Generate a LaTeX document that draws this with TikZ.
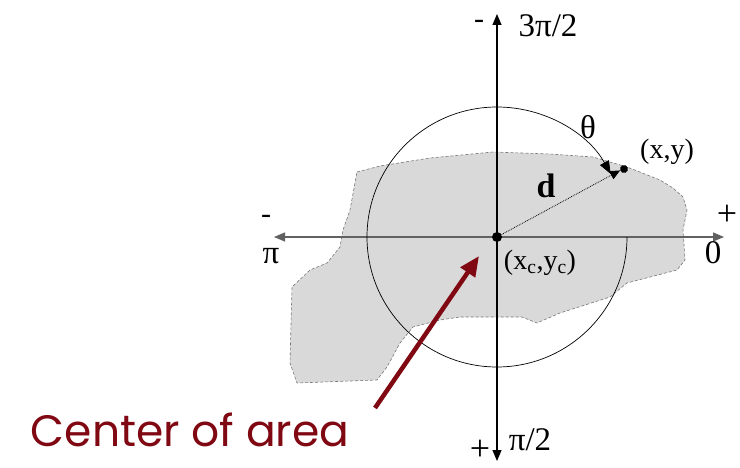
\documentclass[tikz,border=0pt]{standalone}
\usepackage{fontspec}
\setmainfont{Liberation Serif}
\newfontfamily\notefont{Poppins}
\usetikzlibrary{arrows.meta}
\definecolor{areagray}{RGB}{217,217,217}
\definecolor{areaedge}{RGB}{120,120,120}
\definecolor{notered}{RGB}{128,8,18}

\begin{document}
\begin{tikzpicture}[
  x=1pt, y=-1pt,
  axis/.style={line width=1.2pt, {Triangle[length=11pt,width=9pt]}-{Triangle[length=11pt,width=9pt]}},
  haxis/.style={axis, draw=black!62},
  area/.style={fill=areagray, draw=areaedge, line width=.6pt, densely dashed},
  lbl/.style={inner sep=1pt, font=\fontsize{33}{35}\selectfont},
  sign/.style={inner sep=0pt, font=\fontsize{30}{32}\selectfont},
  plus/.style={inner sep=0pt, font=\fontsize{36}{38}\selectfont},
  dline/.style={line width=.8pt, densely dotted, -{Triangle[length=10pt,width=9pt]}},
  sweep/.style={line width=.7pt, -{Triangle[length=13pt,width=10pt]}},
  note/.style={-{Triangle[length=20pt,width=17pt]}, line width=4.5pt, draw=notered},
  dot/.style={circle, fill=black, inner sep=0pt, minimum size=10pt}
]
\useasboundingbox (0,0) rectangle (740,468);

% blob
\draw[area] (357,172) -- (380,166) -- (430,158) -- (493,152) -- (550,154)
  -- (593,157) -- (627,167) -- (660,180) -- (673,188) -- (683,197)
  -- (687,210) -- (683,230) -- (685,260) -- (677,270) -- (627,283)
  -- (610,297) -- (560,313) -- (537,323) -- (522,317) -- (460,317)
  -- (440,320) -- (413,327) -- (400,343) -- (387,367) -- (377,380)
  -- (297,383) -- (290,363) -- (292,287) -- (310,270) -- (327,263)
  -- (340,247) -- (343,230) -- (350,210) -- cycle;

% axes
\coordinate (top) at (497,14);
\coordinate (bottom) at (497,461);
\coordinate (left) at (274,237);
\coordinate (right) at (724,237);
\draw[haxis] (left) -- (right);
\draw[axis] (bottom) -- (top);

% centre and point
\node[dot] (c) at (497,237) {};
\node[dot, minimum width=12pt, minimum size=8pt, rotate=20] (p) at (624,169) {};
\draw[dline] (c) -- (p.west);
\draw[sweep] (627,237) arc[start angle=0, end angle=-331, radius=130pt];

% labels
\node[sign] (tminus) at (479,24) {-};
\node[lbl] (tlab) at (548,26) {3π/2};
\node[plus] (bplus) at (480,450) {+};
\node[lbl] (blab) at (530,440) {π/2};
\node[sign] (lminus) at (266,219) {-};
\node[lbl] (llab) at (271,256) {π};
\node[plus] (rplus) at (727,215) {+};
\node[lbl] (rlab) at (713,253) {0};
\node[lbl] (theta) at (588,127) {θ};
\node[lbl, font=\fontsize{34}{36}\selectfont\bfseries] (d) at (546,186) {d};
\node[lbl, font=\fontsize{28}{30}\selectfont] (plab) at (667,152) {(x,y)};
\node[lbl, font=\fontsize{28}{30}\selectfont] (clab) at (540,263) {(x\textsubscript{c},y\textsubscript{c})};

% note
\coordinate (tip) at (479,256);
\node[inner sep=0pt, text=notered, font=\notefont\fontsize{44}{46}\selectfont] (note) at (190,430) {Center of area};
\draw[note] (375,408) -- (tip);
\end{tikzpicture}
\end{document}
